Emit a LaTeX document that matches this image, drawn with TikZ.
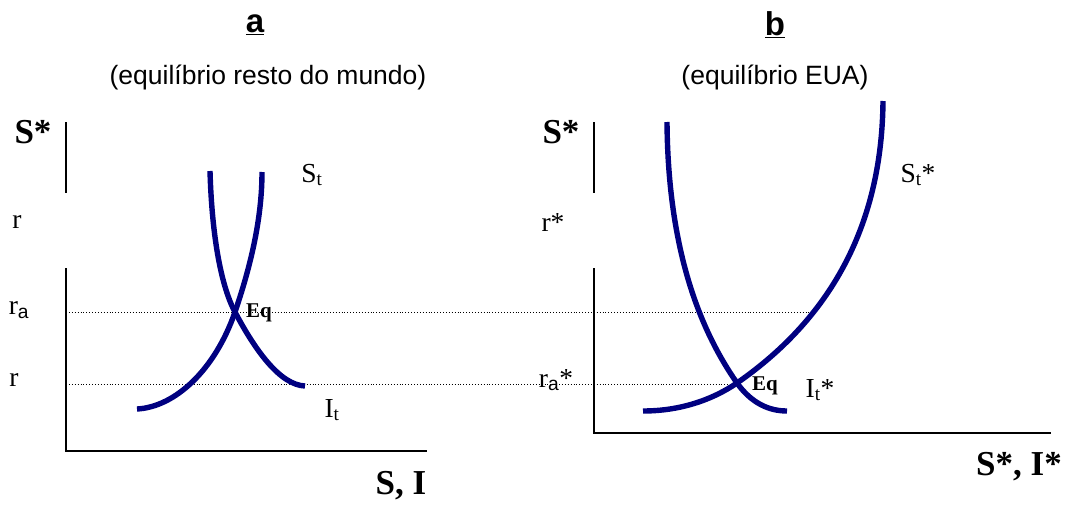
\documentclass[tikz,border=0pt]{standalone}
\usepackage{fontspec}
\setmainfont{Liberation Serif}
\setsansfont{Liberation Sans}
\definecolor{azulcurva}{RGB}{0,0,128}
\begin{document}
\begin{tikzpicture}[x=1pt, y=-1pt,
    curva/.style={azulcurva, line width=5.4pt},
    eixo/.style={black, line width=1.4pt},
    nivel/.style={black, dotted, line width=0.9pt},
    rotulo/.style={inner sep=0pt, font=\fontsize{27.5}{27.5}\selectfont},
    eixolabel/.style={inner sep=0pt, font=\fontsize{35}{35}\selectfont\bfseries},
    eqlabel/.style={inner sep=0pt, font=\fontsize{21}{21}\selectfont\bfseries},
    titulo/.style={inner sep=0pt, font=\fontsize{33}{33}\sffamily\bfseries},
    subtitulo/.style={inner sep=0pt, font=\fontsize{26.5}{26.5}\sffamily}]
    \useasboundingbox (0,0) rectangle (1066,506);

    % Titulos
    \node[titulo] (titA) at (255,25) {\underline{a}};
    \node[subtitulo] (subA) at (268,77) {(equilíbrio resto do mundo)};
    \node[titulo] (titB) at (775,25) {\underline{b}};
    \node[subtitulo] (subB) at (775,77) {(equilíbrio EUA)};

    % Linhas de nivel
    \draw[nivel] (66,312) -- (812,312);
    \draw[nivel] (66,384) -- (736,384);

    % Eixos (a)
    \draw[eixo] (66,122) -- (66,193);
    \draw[eixo] (66,268) -- (66,451) -- (427,451);
    % Eixos (b)
    \draw[eixo] (594,122) -- (594,193);
    \draw[eixo] (594,268) -- (594,433) -- (1051,433);

    % Curvas (a)
    \draw[curva] (210,171) .. controls (212,240) and (222,288) .. (235,312)
                           .. controls (255,350) and (280,385) .. (305,386);
    \draw[curva] (137,409) .. controls (175,407) and (215,370) .. (235,312)
                           .. controls (250,268) and (262,220) .. (262,172);
    % Curvas (b)
    \draw[curva] (667,122) .. controls (668,250) and (700,330) .. (737,383)
                           .. controls (752,404) and (770,411) .. (787,411);
    \draw[curva] (643,411) .. controls (680,411) and (712,400) .. (737,383)
                           .. controls (835,315) and (882,220) .. (883,101);

    % Rotulos (a)
    \node[eixolabel] (yA) at (33,132) {S*};
    \node[rotulo] (rA) at (17,222) {r};
    \node[rotulo] (raA) at (19,310) {r\textsubscript{\sffamily a}};
    \node[rotulo] (r0A) at (14,380) {r};
    \node[eqlabel] (eqA) at (259,313) {Eq};
    \node[rotulo] (sA) at (312,175) {S\textsubscript{t}};
    \node[rotulo] (iA) at (332,410) {I\textsubscript{t}};
    \node[eixolabel] (xA) at (401,486) {S, I};

    % Rotulos (b)
    \node[eixolabel] (yB) at (561,132) {S*};
    \node[rotulo] (rB) at (553,222) {r*};
    \node[rotulo] (raB) at (556,380) {r\textsubscript{\sffamily a}*};
    \node[eqlabel] (eqB) at (765,386) {Eq};
    \node[rotulo] (iB) at (820,390) {I\textsubscript{t}*};
    \node[rotulo] (sB) at (918,175) {S\textsubscript{t}*};
    \node[eixolabel] (xB) at (1019,467) {S*, I*};
\end{tikzpicture}
\end{document}
